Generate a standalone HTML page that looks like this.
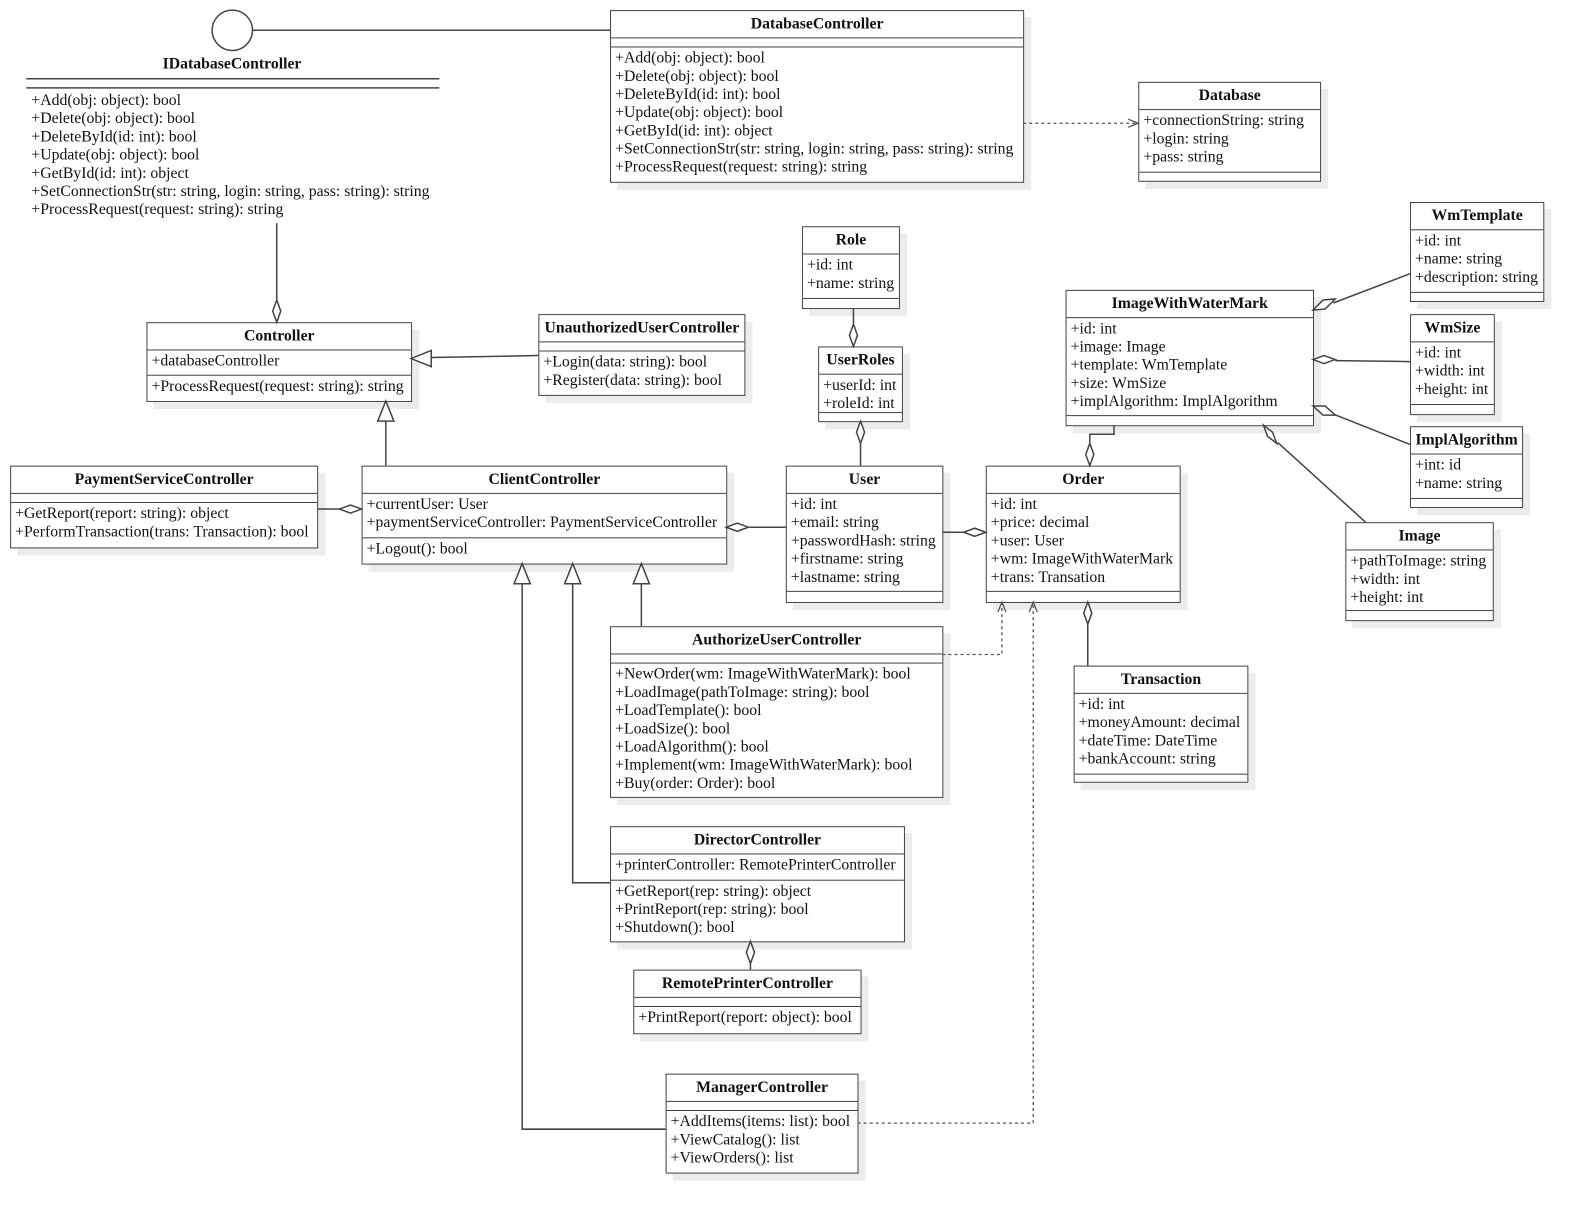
<!DOCTYPE html>
<html><head><meta charset="utf-8"><style>
body{margin:0;width:1584px;height:1213px;background:#fff;overflow:hidden;font-family:"Liberation Serif",serif;font-size:15.6px;color:#111}
#w{position:absolute;left:0;top:0;width:1584px;height:1213px;transform:scale(1.01);transform-origin:0 0}
.b{position:absolute;box-sizing:border-box;border:1.5px solid #444;background:#fff;box-shadow:7px 7px 0 #ececec}
.t{font-weight:bold;text-align:center;box-sizing:border-box;border-bottom:1.5px solid #444;line-height:26px;white-space:nowrap}
.s{box-sizing:border-box;border-bottom:1.5px solid #444;padding:2px 0 2px 4px;line-height:18px;white-space:nowrap}
.s:last-child{border-bottom:none}
.e{height:9px;padding:0}
svg{position:absolute;left:0;top:0;z-index:5}
.tx{position:absolute;white-space:nowrap;line-height:18px}
</style></head><body><div id="w">
<svg width="1584" height="1213">
<g stroke="#444" stroke-width="1.5" fill="none">
<circle cx="230" cy="30" r="20" fill="#fff"/>
<line x1="250" y1="30" x2="604" y2="30"/>
<line x1="26" y1="78" x2="435" y2="78"/><line x1="26" y1="87" x2="435" y2="87"/>
<line x1="274" y1="221" x2="274" y2="297"/><path d="M274 297l-4 11 4 11 4-11z" fill="#fff"/>
<line x1="533" y1="352" x2="427" y2="354"/><path d="M407 355l20-8v16z" fill="#fff"/>
<line x1="382" y1="461" x2="382" y2="417"/><path d="M382 397l-8 20h16z" fill="#fff"/>
<line x1="314" y1="504" x2="336" y2="504"/><path d="M358 504l-11-4-11 4 11 4z" fill="#fff"/>
<line x1="778" y1="522" x2="741" y2="522"/><path d="M719 522l11-4 11 4-11 4z" fill="#fff"/>
<line x1="933" y1="527" x2="954" y2="527"/><path d="M976 527l-11-4-11 4 11 4z" fill="#fff"/>
<line x1="845" y1="305" x2="845" y2="321"/><path d="M845 343l-4-11 4-11 4 11z" fill="#fff"/>
<line x1="852" y1="461" x2="852" y2="439"/><path d="M852 417l-4 11 4 11 4-11z" fill="#fff"/>
<path d="M1103 421v9h-24v9"/><path d="M1079 461l-4-11 4-11 4 11z" fill="#fff"/>
<line x1="1396" y1="271" x2="1320" y2="300"/><path d="M1300 307l10-10 12-1-10 10z" fill="#fff"/>
<line x1="1396" y1="358" x2="1322" y2="357"/><path d="M1300 356l11-4 11 4-11 4z" fill="#fff"/>
<line x1="1396" y1="440" x2="1320" y2="410"/><path d="M1300 402l12 0 10 9-12 0z" fill="#fff"/>
<line x1="1352" y1="517" x2="1265" y2="438"/><path d="M1251 421l9 7 4 11-9-7z" fill="#fff"/>
<line x1="1077" y1="659" x2="1077" y2="618"/><path d="M1077 596l-4 11 4 11 4-11z" fill="#fff"/>
<line x1="743" y1="960" x2="743" y2="954"/><path d="M743 932l-4 11 4 11 4-11z" fill="#fff"/>
<path d="M517 578v540h142"/><path d="M517 558l-8 20h16z" fill="#fff"/>
<path d="M567 578v296h37"/><path d="M567 558l-8 20h16z" fill="#fff"/>
<path d="M635 578v42"/><path d="M635 558l-8 20h16z" fill="#fff"/>
</g>
<g stroke="#555" stroke-width="1.3" fill="none">
<path d="M933 648h59v-52" stroke-dasharray="3,3"/><path d="M988 606l4-10 4 10"/>
<path d="M849 1112h174v-516" stroke-dasharray="3,3"/><path d="M1019 606l4-10 4 10"/>
<path d="M1013 122h114" stroke-dasharray="3,3"/><path d="M1117 118l10 4-10 4"/>
</g>
</svg>
<div class="tx" style="left:161px;top:55px;font-weight:bold">IDatabaseController</div>
<div class="tx" style="left:31px;top:91px">+Add(obj: object): bool<br>+Delete(obj: object): bool<br>+DeleteById(id: int): bool<br>+Update(obj: object): bool<br>+GetById(id: int): object<br>+SetConnectionStr(str: string, login: string, pass: string): string<br>+ProcessRequest(request: string): string</div>

<div class="b" style="left:604px;top:10px;width:410px;height:171px"><div class="t" style="height:27px">DatabaseController</div><div class="s e"></div><div class="s">+Add(obj: object): bool<br>+Delete(obj: object): bool<br>+DeleteById(id: int): bool<br>+Update(obj: object): bool<br>+GetById(id: int): object<br>+SetConnectionStr(str: string, login: string, pass: string): string<br>+ProcessRequest(request: string): string</div></div>

<div class="b" style="left:1127px;top:81px;width:181px;height:99px"><div class="t" style="height:27px">Database</div><div class="s" style="height:62px">+connectionString: string<br>+login: string<br>+pass: string</div><div class="s"></div></div>

<div class="b" style="left:145px;top:319px;width:263px;height:79px"><div class="t" style="height:27px">Controller</div><div class="s" style="height:25px">+databaseController</div><div class="s">+ProcessRequest(request: string): string</div></div>

<div class="b" style="left:533px;top:311px;width:205px;height:81px"><div class="t" style="height:27px">UnauthorizedUserController</div><div class="s e"></div><div class="s">+Login(data: string): bool<br>+Register(data: string): bool</div></div>

<div class="b" style="left:10px;top:461px;width:305px;height:82px"><div class="t" style="height:27px">PaymentServiceController</div><div class="s e"></div><div class="s">+GetReport(report: string): object<br>+PerformTransaction(trans: Transaction): bool</div></div>

<div class="b" style="left:358px;top:461px;width:362px;height:98px"><div class="t" style="height:27px">ClientController</div><div class="s" style="height:44px">+currentUser: User<br>+paymentServiceController: PaymentServiceController</div><div class="s">+Logout(): bool</div></div>

<div class="b" style="left:778px;top:461px;width:156px;height:136px"><div class="t" style="height:27px">User</div><div class="s" style="height:97px">+id: int<br>+email: string<br>+passwordHash: string<br>+firstname: string<br>+lastname: string</div><div class="s"></div></div>

<div class="b" style="left:976px;top:461px;width:193px;height:136px"><div class="t" style="height:27px">Order</div><div class="s" style="height:97px">+id: int<br>+price: decimal<br>+user: User<br>+wm: ImageWithWaterMark<br>+trans: Transation</div><div class="s"></div></div>

<div class="b" style="left:794px;top:224px;width:97px;height:82px"><div class="t" style="height:27px">Role</div><div class="s" style="height:44px">+id: int<br>+name: string</div><div class="s"></div></div>

<div class="b" style="left:810px;top:343px;width:84px;height:75px"><div class="t" style="height:27px">UserRoles</div><div class="s" style="height:38px">+userId: int<br>+roleId: int</div><div class="s"></div></div>

<div class="b" style="left:1055px;top:287px;width:246px;height:135px"><div class="t" style="height:27px">ImageWithWaterMark</div><div class="s" style="height:97px">+id: int<br>+image: Image<br>+template: WmTemplate<br>+size: WmSize<br>+implAlgorithm: ImplAlgorithm</div><div class="s"></div></div>

<div class="b" style="left:1396px;top:200px;width:133px;height:99px"><div class="t" style="height:27px">WmTemplate</div><div class="s" style="height:62px">+id: int<br>+name: string<br>+description: string</div><div class="s"></div></div>

<div class="b" style="left:1396px;top:311px;width:84px;height:100px"><div class="t" style="height:27px">WmSize</div><div class="s" style="height:62px">+id: int<br>+width: int<br>+height: int</div><div class="s"></div></div>

<div class="b" style="left:1396px;top:422px;width:112px;height:81px"><div class="t" style="height:27px">ImplAlgorithm</div><div class="s" style="height:44px">+int: id<br>+name: string</div><div class="s"></div></div>

<div class="b" style="left:1332px;top:517px;width:147px;height:98px"><div class="t" style="height:27px">Image</div><div class="s" style="height:60px">+pathToImage: string<br>+width: int<br>+height: int</div><div class="s"></div></div>

<div class="b" style="left:604px;top:620px;width:330px;height:170px"><div class="t" style="height:27px">AuthorizeUserController</div><div class="s e"></div><div class="s">+NewOrder(wm: ImageWithWaterMark): bool<br>+LoadImage(pathToImage: string): bool<br>+LoadTemplate(): bool<br>+LoadSize(): bool<br>+LoadAlgorithm(): bool<br>+Implement(wm: ImageWithWaterMark): bool<br>+Buy(order: Order): bool</div></div>

<div class="b" style="left:1063px;top:659px;width:173px;height:116px"><div class="t" style="height:27px">Transaction</div><div class="s" style="height:80px">+id: int<br>+moneyAmount: decimal<br>+dateTime: DateTime<br>+bankAccount: string</div><div class="s"></div></div>

<div class="b" style="left:604px;top:818px;width:292px;height:115px"><div class="t" style="height:27px">DirectorController</div><div class="s" style="height:26px">+printerController: RemotePrinterController</div><div class="s">+GetReport(rep: string): object<br>+PrintReport(rep: string): bool<br>+Shutdown(): bool</div></div>

<div class="b" style="left:627px;top:960px;width:226px;height:64px"><div class="t" style="height:27px">RemotePrinterController</div><div class="s e"></div><div class="s">+PrintReport(report: object): bool</div></div>

<div class="b" style="left:659px;top:1063px;width:191px;height:99px"><div class="t" style="height:27px">ManagerController</div><div class="s e"></div><div class="s">+AddItems(items: list): bool<br>+ViewCatalog(): list<br>+ViewOrders(): list</div></div>
</div></body></html>
